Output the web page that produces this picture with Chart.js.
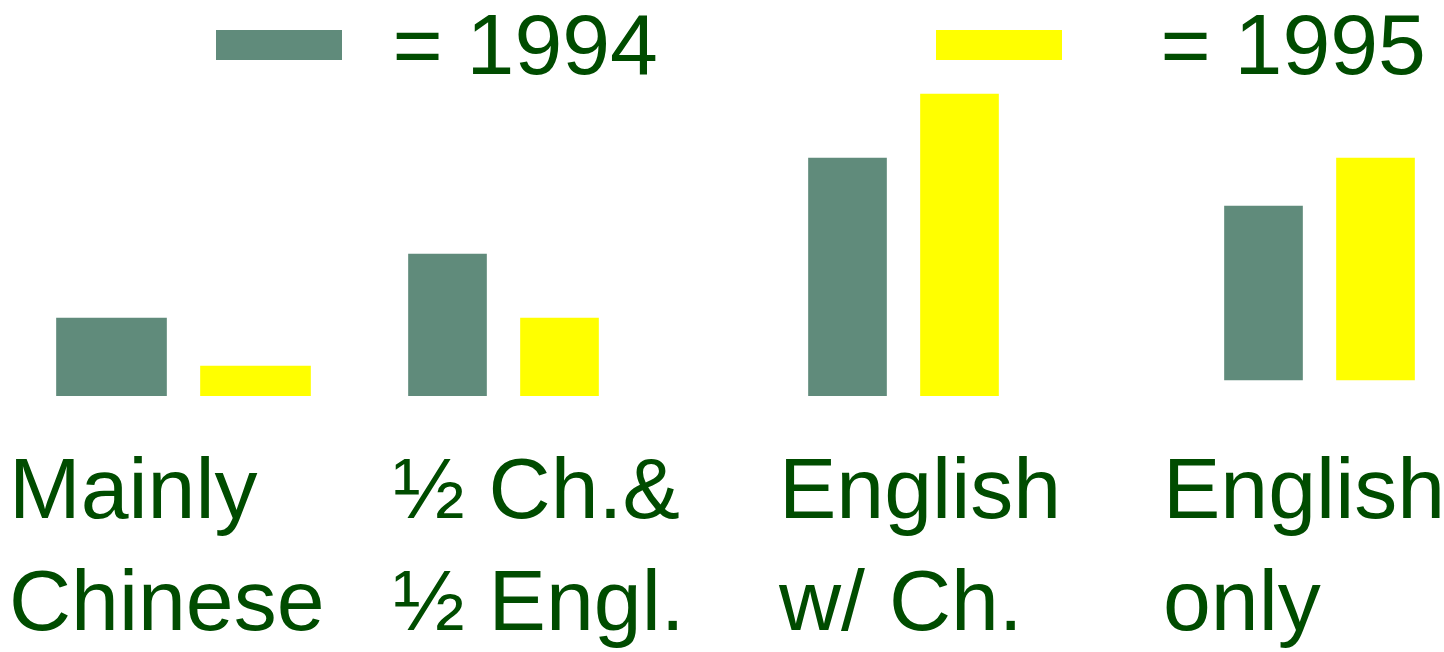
<!DOCTYPE html>
<html>
<head>
<meta charset="utf-8">
<script src="https://cdn.jsdelivr.net/npm/chart.js@4/dist/chart.umd.min.js"></script>
<style>
  html, body { margin: 0; padding: 0; background: #fff; }
  canvas { display: block; }
</style>
</head>
<body>
<canvas id="myChart" width="1444" height="652"></canvas>
<script>
// data
const categories = [['Mainly', 'Chinese'], ['½ Ch.&', '½ Engl.'], ['English', 'w/ Ch.'], ['English', 'only']];
const years = ['1994', '1995'];
const values1994 = [5, 9, 15, 11];
const values1995 = [2, 5, 19, 14];

// layout (canvas pixels on the x scale)
const x1994 = [111.5, 447.5, 847.5, 1263.5];
const x1995 = [255.5, 559.5, 959.5, 1375.5];
const barWidths = [110, 78, 78, 78];
const lift = [0, 0, 0, 1];
const labelX = [9, 393, 779, 1163];
const gap = 0.125;

const textColor = '#004c00';
const colors = ['#608b7b', '#ffff00'];
const fontFamily = '"Liberation Sans", Arial, sans-serif';
const fontSize = 86;

function makeSets(label, values, xs, color) {
  const widths = [...new Set(barWidths)];
  return widths.map(w => ({
    label: label,
    backgroundColor: color,
    borderWidth: 0,
    barThickness: w,
    grouped: false,
    data: values
      .map((v, i) => barWidths[i] === w ? { x: xs[i], y: [lift[i] + gap, lift[i] + v] } : null)
      .filter(Boolean)
  }));
}

const yearLegend = {
  id: 'yearLegend',
  afterDraw(chart) {
    const ctx = chart.ctx;
    const boxX = [216, 936];
    const textX = [392.5, 1160.5];
    ctx.save();
    ctx.font = fontSize + 'px ' + fontFamily;
    ctx.textBaseline = 'alphabetic';
    ctx.textAlign = 'left';
    years.forEach((year, i) => {
      ctx.fillStyle = colors[i];
      ctx.fillRect(boxX[i], 30, 126, 30);
      ctx.fillStyle = textColor;
      ctx.fillText('= ' + year, textX[i], 74);
    });
    ctx.restore();
  }
};

new Chart(document.getElementById('myChart').getContext('2d'), {
  type: 'bar',
  data: {
    datasets: [
      ...makeSets(years[0], values1994, x1994, colors[0]),
      ...makeSets(years[1], values1995, x1995, colors[1])
    ]
  },
  options: {
    responsive: false,
    animation: false,
    layout: { padding: 0 },
    plugins: {
      legend: { display: false },
      tooltip: { enabled: false }
    },
    scales: {
      x: {
        type: 'linear',
        min: 0,
        max: 1444,
        bounds: 'data',
        offset: false,
        grid: { display: false, drawTicks: false, offset: false },
        border: { display: false },
        afterBuildTicks: scale => {
          scale.ticks = labelX.map(v => ({ value: v }));
        },
        afterFit: scale => {
          scale.height = 256;
          scale.paddingLeft = 0;
          scale.paddingRight = 0;
        },
        ticks: {
          autoSkip: false,
          maxRotation: 0,
          minRotation: 0,
          align: 'start',
          padding: 42,
          color: textColor,
          font: { family: fontFamily, size: fontSize, lineHeight: '112px' },
          callback: (value, index) => categories[index]
        }
      },
      y: {
        display: false,
        min: gap,
        max: 24.875,
        bounds: 'data',
        beginAtZero: false
      }
    }
  },
  plugins: [yearLegend]
});
</script>
</body>
</html>
